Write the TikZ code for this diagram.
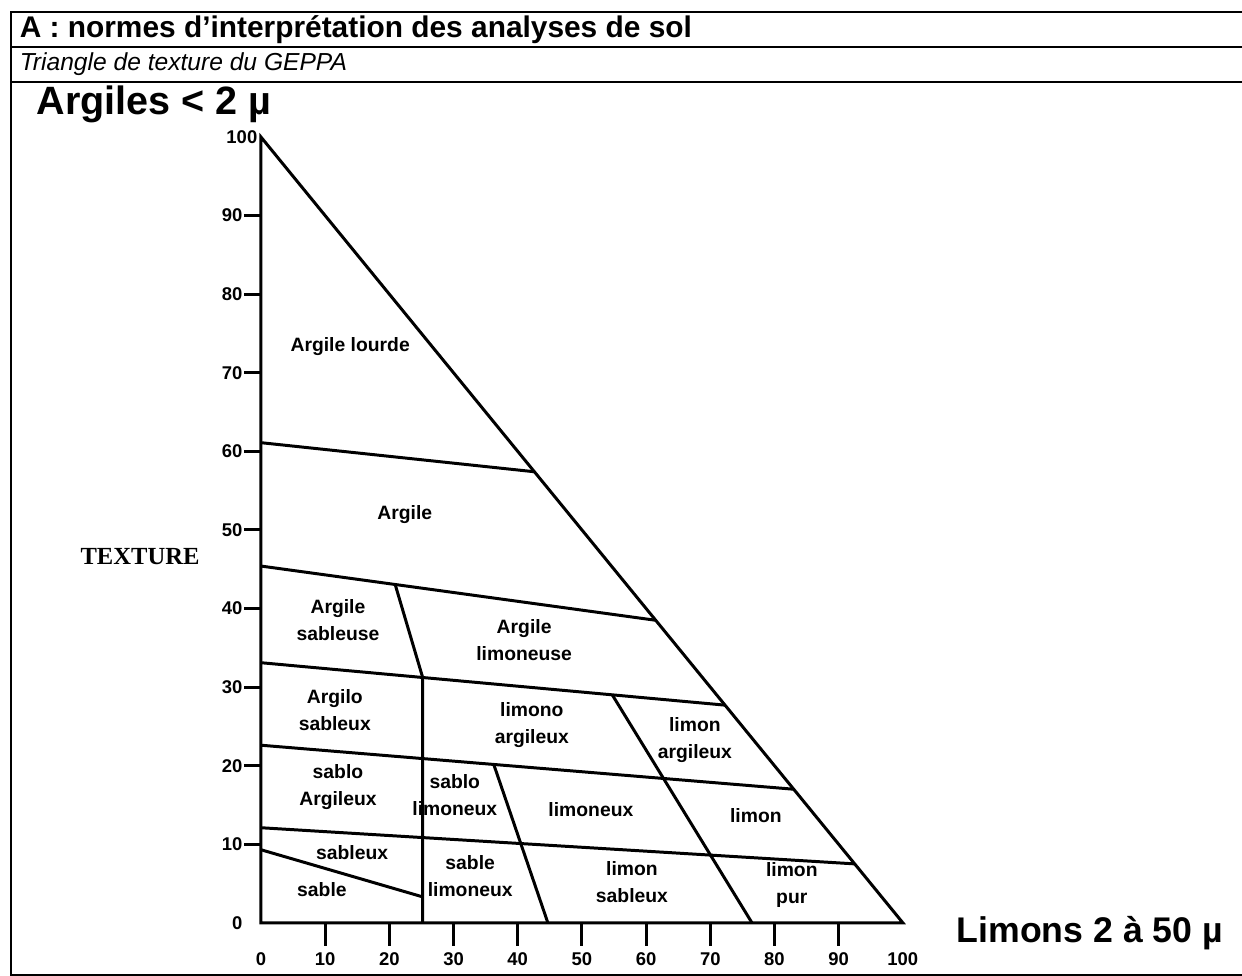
\documentclass[tikz,border=0pt]{standalone}
\usepackage{fontspec}
\setmainfont{Liberation Serif}
\setsansfont{Liberation Sans}
\usetikzlibrary{calc}
\begin{document}
\begin{tikzpicture}[x=.02cm, y=-.02cm, thick, outer sep=0pt, inner sep=1pt,
    zone/.style={font=\sffamily\bfseries\fontsize{11}{15.5}\selectfont, align=center},
    graduation/.style={font=\sffamily\bfseries\fontsize{10.5}{11}\selectfont}]
    \useasboundingbox (0,0) rectangle (1242,976);
    \draw[line width=1.1pt] (1242,12) -- (11,12) -- (11,975) -- (1242,975) (11,47) -- (1242,47) (11,82) -- (1242,82);
    \node[anchor=west, font=\sffamily\bfseries\fontsize{17}{18}\selectfont] (titre) at (18,29.5) {A : normes d’interprétation des analyses de sol};
    \node[anchor=west, font=\sffamily\itshape\fontsize{14}{15}\selectfont] (soustitre) at (18,64.5) {Triangle de texture du GEPPA};
    \node[anchor=west, font=\sffamily\bfseries\fontsize{22.5}{24}\selectfont] (argiles) at (35,104) {Argiles < 2 µ};
    \node[anchor=west, font=\sffamily\bfseries\fontsize{20.3}{22}\selectfont] (limons) at (955,933) {Limons 2 à 50 µ};
    \node[font=\bfseries\fontsize{14}{15}\selectfont] (texture) at (140,557) {TEXTURE};

    \begin{scope}[shift={(5.22cm,-18.46cm)}, x=.1284cm, y=.1572cm, line width=1.7pt]
    \coordinate (o) at (0,0);
    \coordinate (h) at (0,100);
    \coordinate (d) at (100,0);
    \draw (o) -- (h) -- (d) -- cycle;
    \foreach \n/\ya/\xb/\yb in {a/61.1/42.6/57.4, b/45.4/61.5/38.5, c/33.1/72.3/27.7, e/22.6/83/17, f/12.1/92.5/7.5}{
        \coordinate (\n1) at (0,\ya);
        \coordinate (\n2) at (\xb,\yb);
        \draw (\n1) -- (\n2);
    }
    \coordinate (g1) at (0,9.3);
    \coordinate (g2) at (25.2,3.3);
    \coordinate (k1) at ($(b1)!.34!(b2)$);
    \coordinate (k2) at ($(c1)!.3485!(c2)$);
    \coordinate (k3) at (25.2,0);
    \coordinate (m1) at ($(e1)!.437!(e2)$);
    \coordinate (m2) at (44.7,0);
    \coordinate (n1) at ($(c1)!.757!(c2)$);
    \coordinate (n2) at (76.5,0);
    \draw (k1) -- (k2) -- (k3) (g1) -- (g2) (m1) -- (m2) (n1) -- (n2);

    \foreach \k in {10,20,...,90}{
        \draw (-2.6,\k) -- (0,\k);
        \draw (\k,0) -- (\k,-3);
    }
    \foreach \k in {0,10,...,90}
        \node[graduation, anchor=east] (gy\k) at (-2.6,\k) {\k};
    \node[graduation, anchor=east] (gy100) at (-0.3,100) {100};
    \foreach \k in {0,10,...,100}
        \node[graduation, anchor=north] (gx\k) at (\k,-3.6) {\k};

    \foreach \t/\p [count=\i] in {Argile lourde/{13.9,73.3}, Argile/{22.4,51.9},
        Argile\\sableuse/{12,38.5}, Argile\\limoneuse/{41,36}, Argilo\\sableux/{11.5,27.1},
        limono\\argileux/{42.2,25.2}, limon\\argileux/{67.6,23.3}, sablo\\Argileux/{12,17.3},
        sablo\\limoneux/{30.2,16.3}, limoneux/{51.4,14.4}, limon/{77.1,13.7},
        sableux/{14.2,8.9}, sable/{9.5,4.2}, sable\\limoneux/{32.6,5.9},
        limon\\sableux/{57.8,5.2}, limon\\pur/{82.7,4.8}}
        \node[zone] (z\i) at (\p) {\t};
    \end{scope}
\end{tikzpicture}
\end{document}
